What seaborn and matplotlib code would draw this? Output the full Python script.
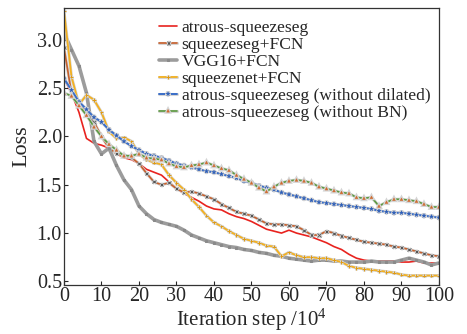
import matplotlib
matplotlib.use("Agg")
import matplotlib.pyplot as plt
import matplotlib.patheffects as pe
import seaborn as sns
import numpy as np

steps = list(range(0, 101, 2))

atrous = [2.60, 2.45, 2.25, 1.98, 1.93, 1.91, 1.88, 1.82, 1.78, 1.76, 1.72, 1.66, 1.63, 1.60, 1.53,
          1.46, 1.41, 1.37, 1.33, 1.28, 1.25, 1.24, 1.20, 1.17, 1.15, 1.12, 1.08, 1.04, 1.02, 1.00,
          1.03, 1.00, 0.98, 0.96, 0.93, 0.90, 0.86, 0.83, 0.78, 0.74, 0.72, 0.71, 0.71, 0.71, 0.71,
          0.70, 0.70, 0.71, 0.69, 0.69, 0.69]
sqseg_fcn = [2.92, 2.45, 2.35, 2.25, 2.15, 2.00, 1.88, 1.82, 1.80, 1.78, 1.72, 1.62, 1.53, 1.50, 1.52,
             1.46, 1.42, 1.43, 1.41, 1.38, 1.35, 1.30, 1.26, 1.22, 1.20, 1.18, 1.14, 1.10, 1.09, 1.09,
             1.08, 1.07, 1.03, 0.98, 0.98, 1.02, 1.00, 0.97, 0.95, 0.93, 0.91, 0.90, 0.89, 0.88, 0.86,
             0.85, 0.83, 0.81, 0.79, 0.77, 0.76]
vgg_fcn = [3.07, 2.90, 2.73, 2.45, 1.95, 1.82, 1.88, 1.70, 1.55, 1.45, 1.28, 1.20, 1.14, 1.11, 1.09,
           1.07, 1.03, 0.98, 0.95, 0.92, 0.90, 0.88, 0.86, 0.85, 0.83, 0.82, 0.80, 0.79, 0.77, 0.76,
           0.74, 0.73, 0.72, 0.71, 0.72, 0.72, 0.71, 0.71, 0.70, 0.70, 0.70, 0.71, 0.70, 0.70, 0.70,
           0.72, 0.74, 0.72, 0.70, 0.67, 0.69]
sqnet_fcn = [3.30, 2.62, 2.33, 2.43, 2.38, 2.25, 2.05, 1.98, 1.99, 1.95, 1.82, 1.76, 1.73, 1.71, 1.60,
             1.52, 1.45, 1.35, 1.27, 1.18, 1.11, 1.07, 1.02, 0.98, 0.94, 0.92, 0.90, 0.87, 0.86, 0.76,
             0.80, 0.77, 0.75, 0.75, 0.74, 0.74, 0.72, 0.70, 0.66, 0.64, 0.63, 0.62, 0.61, 0.60, 0.59,
             0.57, 0.56, 0.56, 0.56, 0.56, 0.56]
no_dilated = [2.60, 2.48, 2.36, 2.28, 2.20, 2.15, 2.07, 2.01, 1.95, 1.90, 1.86, 1.82, 1.80, 1.78, 1.75,
              1.72, 1.70, 1.68, 1.66, 1.64, 1.63, 1.61, 1.59, 1.57, 1.54, 1.52, 1.49, 1.47, 1.45, 1.42,
              1.40, 1.38, 1.36, 1.34, 1.32, 1.31, 1.30, 1.29, 1.28, 1.27, 1.26, 1.25, 1.23, 1.22, 1.21,
              1.21, 1.20, 1.19, 1.18, 1.17, 1.16]
no_bn = [2.45, 2.42, 2.32, 2.22, 2.10, 2.00, 1.92, 1.86, 1.80, 1.80, 1.82, 1.78, 1.77, 1.76, 1.72,
         1.69, 1.68, 1.70, 1.71, 1.73, 1.70, 1.67, 1.65, 1.60, 1.56, 1.52, 1.47, 1.43, 1.48, 1.52,
         1.54, 1.55, 1.54, 1.52, 1.48, 1.46, 1.44, 1.42, 1.41, 1.37, 1.36, 1.37, 1.28, 1.32, 1.35,
         1.35, 1.34, 1.33, 1.30, 1.27, 1.27]

labels = ["atrous-squeezeseg", "squeezeseg+FCN", "VGG16+FCN", "squeezenet+FCN",
          "atrous-squeezeseg (without dilated)", "atrous-squeezeseg (without BN)"]
xticks = [0, 10, 20, 30, 40, 50, 60, 70, 80, 90, 100]
yticks = [0.5, 1.0, 1.5, 2.0, 2.5, 3.0]

sns.set_style("ticks")
plt.rcParams["font.family"] = ["Liberation Serif", "DejaVu Serif"]
plt.rcParams["mathtext.default"] = "regular"

fig = plt.figure(figsize=(4.67, 3.34), dpi=100)
ax = fig.add_axes([0.137, 0.146, 0.803, 0.830])

halo = [pe.Stroke(linewidth=2.2, foreground="#d4d4d4"), pe.Normal()]

styles = [
    dict(color="#e8231f", lw=1.2),
    dict(color="#c8602c", lw=1.2, marker="x", ms=2.2, mec="#555555", mew=0.6, path_effects=halo),
    dict(color="#9c9c9c", lw=2.6, marker="s", ms=2.0, mec="#8a8a8a", mfc="#8a8a8a"),
    dict(color="#f4b120", lw=1.3, marker="+", ms=2.6, mec="#e09a10", mew=0.7, path_effects=halo),
    dict(color="#3a6ec8", lw=1.4, marker="*", ms=3.2, mec="#2a5cb8", mfc="#2a5cb8", mew=0.3, path_effects=halo),
    dict(color="#5c9a40", lw=1.2, marker="^", ms=2.0, mec="#cf6a2e", mfc="#cf6a2e", mew=0.3, path_effects=halo),
]
series = [atrous, sqseg_fcn, vgg_fcn, sqnet_fcn, no_dilated, no_bn]

for y, lab, st in zip(series, labels, styles):
    sns.lineplot(x=steps, y=y, ax=ax, label=lab, estimator=None, sort=False, **st)

ax.set_xlim(0, 100)
ax.set_ylim(0.46, 3.33)
ax.set_xticks(xticks)
ax.set_yticks(yticks)
ax.set_yticklabels([f"{t:.1f}" for t in yticks])
ax.tick_params(direction="in", length=3, labelsize=14.5, pad=1.5)
for s in ax.spines.values():
    s.set_linewidth(0.9)
    s.set_color("#333333")
ax.set_xlabel("Iteration step /10$^4$", fontsize=15, labelpad=0)
ax.set_ylabel("Loss", fontsize=16, labelpad=4)

leg = ax.legend(loc="upper left", bbox_to_anchor=(0.225, 0.995), frameon=False, fontsize=12.6,
                handlelength=1.05, handletextpad=0.25, labelspacing=0.04, borderaxespad=0.2,
                numpoints=1)

fig.savefig("out.png", dpi=100)
